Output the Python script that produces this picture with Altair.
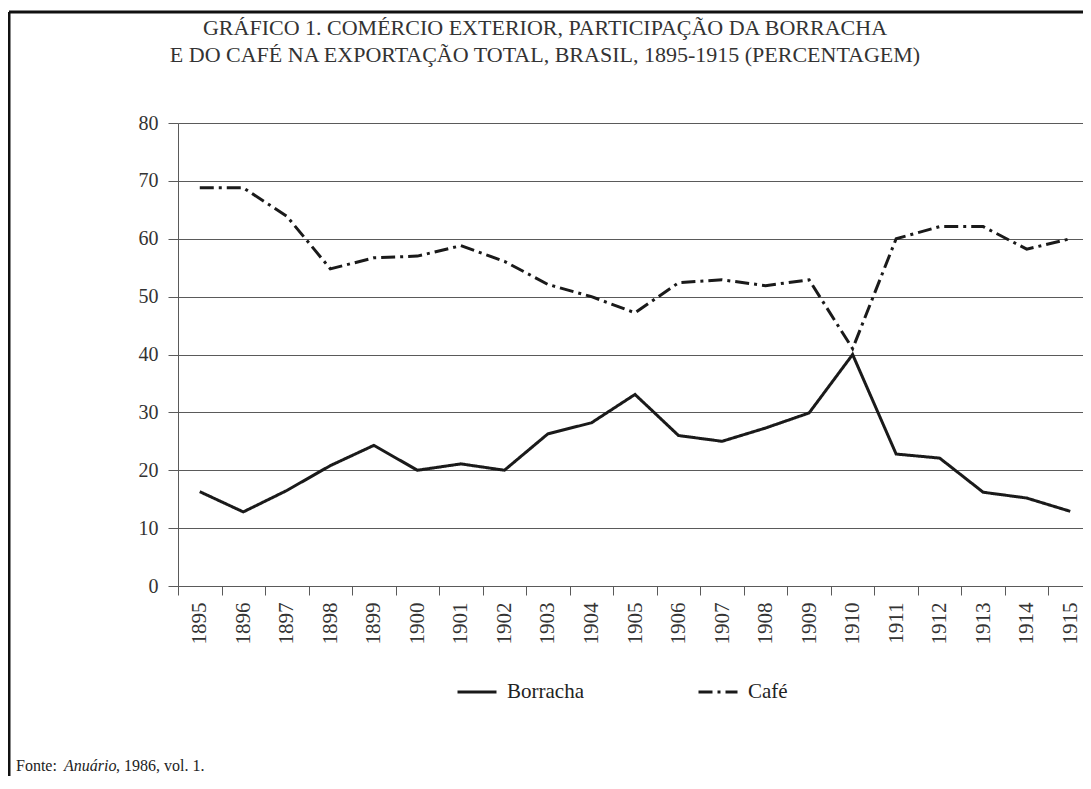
import altair as alt
import pandas as pd

# ---- data ----
years = [str(y) for y in range(1895, 1916)]
borracha = [16.3, 12.8, 16.5, 20.8, 24.3, 20.0, 21.1, 20.0, 26.3, 28.2, 33.1,
            26.0, 25.0, 27.3, 29.9, 40.0, 22.8, 22.1, 16.2, 15.2, 12.9]
cafe = [68.8, 68.8, 63.9, 54.8, 56.7, 57.0, 58.8, 56.1, 52.1, 50.0, 47.2,
        52.4, 52.9, 51.9, 52.9, 41.0, 60.0, 62.1, 62.1, 58.2, 60.0]
series_names = ["Borracha", "Café"]
y_ticks = [0, 10, 20, 30, 40, 50, 60, 70, 80]

title_lines = [
    "GRÁFICO 1. COMÉRCIO EXTERIOR, PARTICIPAÇÃO DA BORRACHA",
    "E DO CAFÉ NA EXPORTAÇÃO TOTAL, BRASIL, 1895-1915 (PERCENTAGEM)",
]
footer_parts = ["Fonte:", "Anuário", ", 1986, vol. 1."]

df = pd.DataFrame({
    "ano": years * 2,
    "valor": borracha + cafe,
    "serie": [series_names[0]] * len(years) + [series_names[1]] * len(years),
})

SERIF = "Liberation Serif"
W, H = 905, 463

lines = alt.Chart(df).mark_line(color="#1a1a1a", strokeWidth=3).encode(
    x=alt.X("ano:O", sort=years,
            scale=alt.Scale(range=[0, 914], paddingInner=0, paddingOuter=0),
            axis=alt.Axis(title=None, labelAngle=270, tickBand="extent",
                          tickSize=9, labelPadding=7, grid=False,
                          domainColor="#5a5a5a", tickColor="#5a5a5a",
                          labelFont=SERIF, labelFontSize=21, labelColor="#333333")),
    y=alt.Y("valor:Q", scale=alt.Scale(domain=[0, 80], nice=False),
            axis=alt.Axis(title=None, values=y_ticks, grid=True,
                          gridColor="#5a5a5a", gridWidth=1.2,
                          domainColor="#5a5a5a", tickColor="#5a5a5a",
                          tickSize=10, labelPadding=10,
                          labelFont=SERIF, labelFontSize=20, labelColor="#333333")),
    strokeDash=alt.StrokeDash(
        "serie:N",
        scale=alt.Scale(domain=series_names, range=[[1, 0], [14, 5, 3, 5]]),
        legend=alt.Legend(title=None, orient="none", direction="horizontal",
                          legendX=278, legendY=548,
                          symbolType="stroke", symbolSize=1521,
                          symbolStrokeWidth=3, symbolStrokeColor="#1a1a1a",
                          labelFont=SERIF, labelFontSize=21, labelColor="#222222",
                          labelOffset=9, columnPadding=108),
    ),
)

one = alt.Data(values=[{}])

title1 = alt.Chart(one).mark_text(font=SERIF, fontSize=22, color="#333333",
                                  align="center", baseline="alphabetic").encode(
    x=alt.value(367), y=alt.value(-88), text=alt.value(title_lines[0]))
title2 = alt.Chart(one).mark_text(font=SERIF, fontSize=22, color="#333333",
                                  align="center", baseline="alphabetic").encode(
    x=alt.value(367), y=alt.value(-61), text=alt.value(title_lines[1]))

foot1 = alt.Chart(one).mark_text(font=SERIF, fontSize=16, color="#222222",
                                 align="left", baseline="alphabetic").encode(
    x=alt.value(-162), y=alt.value(648), text=alt.value(footer_parts[0]))
foot2 = alt.Chart(one).mark_text(font=SERIF, fontSize=16, color="#222222",
                                 fontStyle="italic",
                                 align="left", baseline="alphabetic").encode(
    x=alt.value(-114), y=alt.value(648), text=alt.value(footer_parts[1]))
foot3 = alt.Chart(one).mark_text(font=SERIF, fontSize=16, color="#222222",
                                 align="left", baseline="alphabetic").encode(
    x=alt.value(-62), y=alt.value(648), text=alt.value(footer_parts[2]))

frame_left = alt.Chart(one).mark_rule(color="#111111", strokeWidth=3).encode(
    x=alt.value(-169), y=alt.value(-111), y2=alt.value(700))
frame_top = alt.Chart(one).mark_rule(color="#111111", strokeWidth=3).encode(
    x=alt.value(-169), x2=alt.value(W), y=alt.value(-111))

chart = alt.layer(
    lines, title1, title2, foot1, foot2, foot3, frame_left, frame_top
).properties(
    width=W, height=H,
    autosize=alt.AutoSizeParams(type="none"),
    padding={"left": 170, "top": 115, "right": 0, "bottom": 190},
    background="white",
).configure_view(strokeWidth=0)

chart.save("out.html", embed_options={"renderer": "svg", "actions": False})
